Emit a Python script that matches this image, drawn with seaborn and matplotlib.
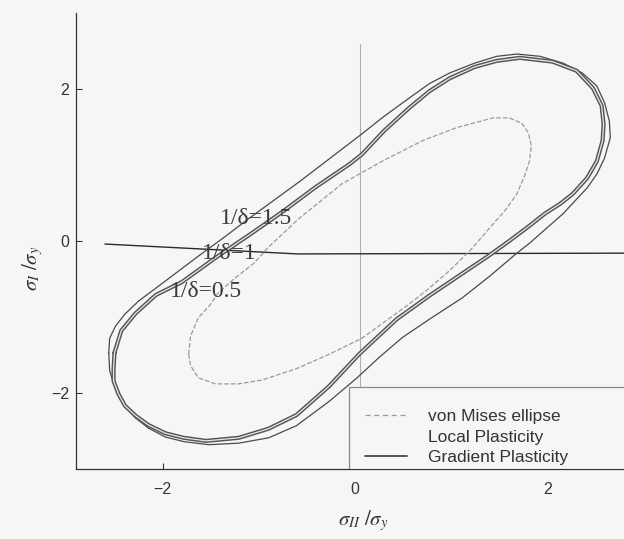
import matplotlib
matplotlib.use("Agg")
import matplotlib.pyplot as plt
from matplotlib.lines import Line2D
from matplotlib.patches import Rectangle
import seaborn as sns
import pandas as pd

# --- curve data (sigma_I/sigma_y vs sigma_II/sigma_y) ---
# outer gradient curve, 1/delta = 1.5
outer_x = [-2.56, -2.55, -2.49, -2.39, -2.25, -2.07, -1.85, -1.63, -1.36, -1.10, -0.84, -0.58,
           -0.27, 0.07, 0.30, 0.56, 0.77, 0.98, 1.24, 1.47, 1.68, 1.92, 2.16, 2.36, 2.51, 2.59,
           2.64, 2.65, 2.59, 2.51, 2.41, 2.16, 1.81, 1.66, 1.40, 1.11, 0.77, 0.49, 0.25, 0.02,
           -0.27, -0.61, -0.90, -1.21, -1.52, -1.78, -1.97, -2.15, -2.28, -2.41, -2.49, -2.55, -2.56]
outer_y = [-1.47, -1.28, -1.12, -0.96, -0.79, -0.62, -0.41, -0.20, 0.05, 0.30, 0.54, 0.78,
           1.08, 1.41, 1.64, 1.88, 2.07, 2.21, 2.34, 2.43, 2.46, 2.43, 2.34, 2.21, 2.04, 1.82,
           1.58, 1.36, 1.09, 0.88, 0.70, 0.36, -0.03, -0.18, -0.46, -0.75, -1.03, -1.27, -1.53, -1.80,
           -2.11, -2.43, -2.59, -2.66, -2.68, -2.64, -2.58, -2.46, -2.33, -2.14, -1.95, -1.71, -1.47]

# inner gradient curves, 1/delta = 1 and 0.5 (nearly coincident)
inner_x = [-2.50, -2.43, -2.28, -2.07, -1.80, -1.45, -1.10, -0.76, -0.41, -0.06, 0.07, 0.30,
           0.56, 0.77, 0.98, 1.24, 1.47, 1.71, 2.05, 2.30, 2.47, 2.56, 2.58, 2.57, 2.51, 2.41,
           2.26, 2.13, 1.97, 1.81, 1.60, 1.38, 1.11, 0.77, 0.43, 0.04, -0.27, -0.61, -0.90,
           -1.21, -1.55, -1.78, -1.97, -2.15, -2.28, -2.39, -2.46, -2.51, -2.51, -2.50]
inner_y = [-1.47, -1.18, -0.95, -0.71, -0.54, -0.22, 0.08, 0.38, 0.71, 1.01, 1.14, 1.45,
           1.75, 1.97, 2.14, 2.29, 2.37, 2.41, 2.36, 2.24, 2.01, 1.78, 1.54, 1.32, 1.05, 0.83,
           0.62, 0.49, 0.36, 0.20, 0.00, -0.20, -0.43, -0.72, -1.03, -1.49, -1.91, -2.29, -2.47,
           -2.59, -2.63, -2.59, -2.53, -2.42, -2.30, -2.17, -2.01, -1.84, -1.68, -1.47]

# von Mises ellipse
mises_x = [-1.73, -1.71, -1.63, -1.52, -1.42, -1.26, -1.05, -0.90, -0.58, -0.14, 0.28, 0.70,
           1.05, 1.43, 1.60, 1.73, 1.80, 1.83, 1.81, 1.76, 1.68, 1.55, 1.43, 1.19, 0.98, 0.77,
           0.56, 0.07, -0.27, -0.61, -0.97, -1.21, -1.45, -1.63, -1.71, -1.73]
mises_y = [-1.49, -1.25, -1.01, -0.86, -0.68, -0.50, -0.29, -0.08, 0.30, 0.75, 1.05, 1.32,
           1.49, 1.62, 1.62, 1.55, 1.42, 1.25, 1.05, 0.86, 0.62, 0.39, 0.22, -0.13, -0.39, -0.62,
           -0.83, -1.28, -1.49, -1.68, -1.83, -1.88, -1.88, -1.80, -1.64, -1.49]

# reference lines
hline_x = [-2.6, -0.6, 2.8]
hline_y = [-0.04, -0.17, -0.16]
vline_x = [0.05, 0.05]
vline_y = [-3.0, 2.59]

# curve labels
label_text = ['1/δ=1.5', '1/δ=1', '1/δ=0.5']
label_x = [-1.40, -1.59, -1.92]
label_y = [0.30, -0.16, -0.66]

legend_labels = ['von Mises ellipse', 'Local Plasticity', 'Gradient Plasticity']

BG = '#f6f6f6'

sns.set_theme(style='white')
plt.rcParams['font.family'] = ['Liberation Sans', 'DejaVu Sans']
plt.rcParams['mathtext.fontset'] = 'stix'

fig = plt.figure(figsize=(6.24, 5.39), dpi=100, facecolor=BG)
ax = fig.add_axes([76 / 624, 70 / 539, 568 / 624, 456 / 539])
ax.set_facecolor(BG)

sns.lineplot(x=vline_x, y=vline_y, ax=ax, color='#b0b0b0', lw=0.8, sort=False, estimator=None)
sns.lineplot(x=hline_x, y=hline_y, ax=ax, color='#2a2a2a', lw=1.0, sort=False, estimator=None)

sns.lineplot(x=mises_x, y=mises_y, ax=ax, color='#9a9a9a', lw=0.9, dashes=(6, 5),
             linestyle='--', sort=False, estimator=None)
sns.lineplot(x=outer_x, y=outer_y, ax=ax, color='#4a4a4a', lw=0.9, sort=False, estimator=None)
# double line: two nearly coincident gradient curves
sns.lineplot(x=inner_x, y=inner_y, ax=ax, color='#555555', lw=3.0, sort=False, estimator=None)
sns.lineplot(x=inner_x, y=inner_y, ax=ax, color='#e8e8e8', lw=0.9, sort=False, estimator=None)

for t, lx, ly in zip(label_text, label_x, label_y):
    ax.text(lx, ly, t, fontsize=17, family='Liberation Serif', color='#3a3a3a',
            va='center', ha='left', zorder=6)

ax.set_xlim(-2.9, 3.0)
ax.set_ylim(-3.0, 3.0)
ax.set_xticks([-2, 0, 2])
ax.set_xticklabels(['\u22122', '0', '2'])
ax.set_yticks([-2, 0, 2])
ax.set_yticklabels(['\u22122', '0', '2'])
ax.tick_params(axis='both', direction='in', length=4, width=0.8, colors='#333333',
               labelsize=11.5, left=True, bottom=True)
ax.tick_params(axis='x', pad=9)
ax.tick_params(axis='y', pad=5)

for side in ['top', 'right']:
    ax.spines[side].set_visible(False)
for side in ['left', 'bottom']:
    ax.spines[side].set_color('#333333')
    ax.spines[side].set_linewidth(0.9)

ax.set_xlabel(r'$\sigma_{II}\ /\sigma_{y}$', fontsize=15, color='#333333')
ax.set_ylabel(r'$\sigma_{I}\ /\sigma_{y}$', fontsize=15, color='#333333')
ax.xaxis.set_label_coords(0.505, -0.085)
ax.yaxis.set_label_coords(-0.055, 0.44)

# legend box (runs off the right edge of the page, as in the scan)
ax.add_patch(Rectangle((0.4806, 0.0), 0.6, 0.18, transform=ax.transAxes,
                       facecolor=BG, edgecolor='#888888', lw=0.9, zorder=4))

handles = [
    Line2D([], [], color='#9a9a9a', lw=0.9, linestyle=(0, (4, 3))),
    Line2D([], [], color=BG, lw=0.9),
    Line2D([], [], color='#555555', lw=1.4),
]
leg = ax.legend(handles, legend_labels, loc='lower left',
                bbox_to_anchor=(0.509, 0.008), borderaxespad=0, borderpad=0,
                fontsize=12.5, frameon=False, handlelength=2.4,
                handletextpad=1.2, labelspacing=0.32)
leg.set_zorder(5)
for txt in leg.get_texts():
    txt.set_color('#333333')

fig.savefig('out.png', dpi=100, facecolor=BG)
